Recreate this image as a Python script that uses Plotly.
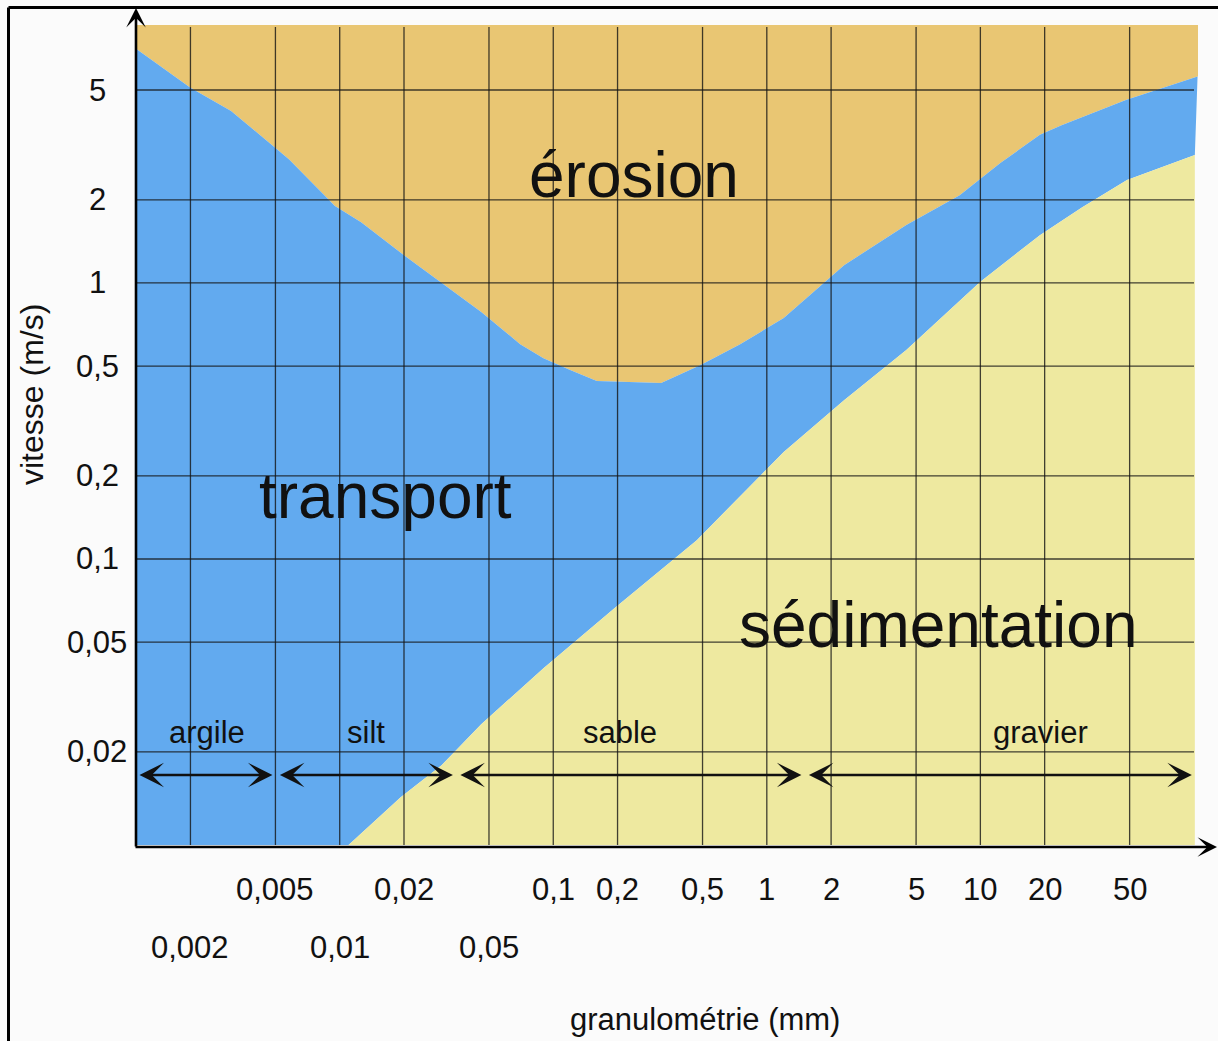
import numpy as np
import plotly.graph_objects as go

# ---- data (grain size in mm, velocity in m/s) ----
# erosion / transport boundary
erosion_size = [0.0011, 0.002, 0.0031, 0.0058, 0.0095, 0.0126, 0.02, 0.03, 0.046, 0.07,
                0.09, 0.12, 0.16, 0.32, 0.49, 0.75, 1.2, 2.3, 4.5, 8.0, 12.4, 19, 24, 48, 104]
erosion_vel = [7.1, 5.1, 4.2, 2.8, 1.9, 1.66, 1.26, 1.0, 0.785, 0.6,
               0.534, 0.484, 0.441, 0.434, 0.504, 0.6, 0.746, 1.16, 1.62, 2.08, 2.72, 3.44, 3.73, 4.6, 5.6]
# transport / sedimentation boundary
sed_size = [0.011, 0.0193, 0.03, 0.046, 0.09, 0.194, 0.47, 1.2, 2.3, 4.5, 10, 19, 30, 48.6, 101]
sed_vel = [0.0092, 0.0137, 0.0179, 0.0252, 0.0402, 0.0664, 0.117, 0.244, 0.376, 0.571,
           1.01, 1.49, 1.88, 2.36, 2.91]

x_ticks = [0.002, 0.005, 0.01, 0.02, 0.05, 0.1, 0.2, 0.5, 1, 2, 5, 10, 20, 50]
x_tick_text = ["0,002", "0,005", "0,01", "0,02", "0,05", "0,1", "0,2", "0,5", "1", "2", "5", "10", "20", "50"]
x_tick_row = [2, 1, 2, 1, 2, 1, 1, 1, 1, 1, 1, 1, 1, 1]
y_ticks = [0.02, 0.05, 0.1, 0.2, 0.5, 1, 2, 5]
y_tick_text = ["0,02", "0,05", "0,1", "0,2", "0,5", "1", "2", "5"]

classes = ["argile", "silt", "sable", "gravier"]
class_bounds = [0.0011, 0.005, 0.035, 1.5, 101]

X_MIN, X_MAX = 0.0011, 104.5
Y_MIN, Y_MAX = 0.0092, 8.6

ORANGE = "#E9C673"
BLUE = "#62AAEF"
YELLOW = "#EEE9A0"
BG = "#FBFBFB"
FONT = "Liberation Sans, Arial, sans-serif"

W, H = 1218, 1041
ML, MR, MT, MB = 135, 20, 25, 196
PW, PH = W - ML - MR, H - MT - MB


def px_x(p):
    return (p - ML) / PW


def px_y(p):
    return (H - MB - p) / PH


fig = go.Figure()

# erosion (orange)
fig.add_trace(go.Scatter(
    x=erosion_size + [X_MAX * 1.05, X_MAX * 1.05, X_MIN],
    y=erosion_vel + [erosion_vel[-1], Y_MAX, Y_MAX],
    fill="toself", fillcolor=ORANGE, mode="lines", line=dict(width=0),
    hoverinfo="skip", showlegend=False))

# transport (blue)
fig.add_trace(go.Scatter(
    x=erosion_size + sed_size[::-1] + [X_MIN],
    y=erosion_vel + sed_vel[::-1] + [Y_MIN],
    fill="toself", fillcolor=BLUE, mode="lines", line=dict(width=0),
    hoverinfo="skip", showlegend=False))

# sedimentation (yellow)
fig.add_trace(go.Scatter(
    x=sed_size + [sed_size[-1]],
    y=sed_vel + [Y_MIN],
    fill="toself", fillcolor=YELLOW, mode="lines", line=dict(width=0),
    hoverinfo="skip", showlegend=False))

shapes = []
GRID = dict(color="rgba(20,20,20,0.8)", width=1.3)
for v in x_ticks:
    shapes.append(dict(type="line", xref="x", yref="paper", x0=v, x1=v,
                       y0=0, y1=px_y(27), line=GRID, layer="above"))
for v in y_ticks:
    shapes.append(dict(type="line", xref="paper", yref="y", x0=0, x1=px_x(1194),
                       y0=v, y1=v, line=GRID, layer="above"))
# outer frame (left and top edges)
shapes.append(dict(type="line", xref="paper", yref="paper", x0=px_x(8.5), x1=px_x(8.5),
                   y0=px_y(H + 5), y1=px_y(7.5), line=dict(color="black", width=3)))
shapes.append(dict(type="line", xref="paper", yref="paper", x0=px_x(8.5), x1=px_x(W + 5),
                   y0=px_y(7.5), y1=px_y(7.5), line=dict(color="black", width=3)))

ann = []
TXT = dict(family=FONT, color="#111111")

# axes with arrows
ann.append(dict(xref="paper", yref="paper", x=px_x(136), y=px_y(8), ax=0, ay=(848 - 8),
                axref="pixel", ayref="pixel", showarrow=True, arrowhead=3, arrowsize=1.25,
                arrowwidth=2.6, arrowcolor="black", text=""))
ann.append(dict(xref="paper", yref="paper", x=px_x(1218), y=px_y(847), ax=-(1218 - 134), ay=0,
                axref="pixel", ayref="pixel", showarrow=True, arrowhead=3, arrowsize=1.25,
                arrowwidth=2.6, arrowcolor="black", text=""))

# grain-size classes: double arrows
for i in range(len(classes)):
    ann.append(dict(xref="x", yref="paper", x=np.log10(class_bounds[i + 1]), y=px_y(775),
                    axref="x", ayref="pixel", ax=np.log10(class_bounds[i]), ay=0,
                    showarrow=True, arrowhead=3, startarrowhead=3, arrowside="end+start",
                    arrowsize=1.7, startarrowsize=1.7, arrowwidth=2.4, arrowcolor="#111111",
                    standoff=3, startstandoff=3, text=""))
class_px = [207, 366, 620, 1040]
for name, p in zip(classes, class_px):
    ann.append(dict(xref="paper", yref="paper", x=px_x(p), y=px_y(732), text=name,
                    showarrow=False, xanchor="center", yanchor="middle",
                    font=dict(size=31, **TXT)))

# region labels
for name, (cx, cy) in zip(["érosion", "transport", "sédimentation"],
                          [(634, 175), (385, 496), (938, 625)]):
    ann.append(dict(xref="paper", yref="paper", x=px_x(cx), y=px_y(cy), text=name,
                    showarrow=False, xanchor="center", yanchor="middle",
                    font=dict(size=64, **TXT)))

# x tick labels (two rows)
for v, t, r in zip(x_ticks, x_tick_text, x_tick_row):
    ann.append(dict(xref="x", yref="paper", x=np.log10(v), y=px_y(889 if r == 1 else 947),
                    text=t, showarrow=False, xanchor="center", yanchor="middle",
                    font=dict(size=31, **TXT)))
# y tick labels
for v, t in zip(y_ticks, y_tick_text):
    ann.append(dict(xref="paper", yref="y", x=px_x(97), y=np.log10(v), text=t,
                    showarrow=False, xanchor="center", yanchor="middle",
                    font=dict(size=31, **TXT)))

# axis titles
ann.append(dict(xref="paper", yref="paper", x=px_x(32), y=px_y(395), text="vitesse (m/s)",
                textangle=-90, showarrow=False, xanchor="center", yanchor="middle",
                font=dict(size=32, **TXT)))
ann.append(dict(xref="paper", yref="paper", x=px_x(705), y=px_y(1019), text="granulométrie (mm)",
                showarrow=False, xanchor="center", yanchor="middle",
                font=dict(size=31, **TXT)))

fig.update_layout(
    width=W, height=H, autosize=False,
    margin=dict(l=ML, r=MR, t=MT, b=MB, pad=0),
    paper_bgcolor=BG, plot_bgcolor=BG,
    xaxis=dict(type="log", range=[np.log10(X_MIN), np.log10(X_MAX)], showgrid=False,
               zeroline=False, showline=False, showticklabels=False, ticks=""),
    yaxis=dict(type="log", range=[np.log10(Y_MIN), np.log10(Y_MAX)], showgrid=False,
               zeroline=False, showline=False, showticklabels=False, ticks=""),
    shapes=shapes, annotations=ann, showlegend=False,
)

fig.write_html("out.html", config={"displayModeBar": False},
               post_script="document.body.style.margin='0';document.body.style.overflow='hidden';")
